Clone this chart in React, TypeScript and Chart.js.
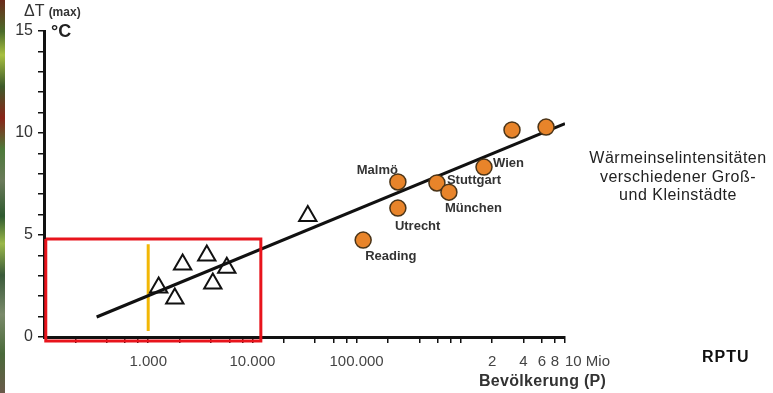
import React, { useEffect, useRef } from 'react';
import { Chart, registerables } from 'chart.js';

Chart.register(...registerables);

// ---- data ----
const triangleX = [1260, 1800, 2140, 3650, 4170, 5680, 34000];
const triangleY = [2.43, 1.89, 3.55, 4.0, 2.62, 3.4, 5.93];

const cityNames = ['Reading', 'Utrecht', 'Malmö', 'Stuttgart', 'München', 'Wien', '', ''];
const cityX = [115600, 249000, 249000, 590000, 769000, 1670000, 3100000, 6580000];
const cityY = [4.75, 6.32, 7.6, 7.55, 7.1, 8.33, 10.15, 10.29];

const trendX = [320, 10000000];
const trendY = [0.98, 10.46];

const markerX = [1000, 1000];
const markerY = [4.55, 0.29];

const boxX = [104, 12050, 12050, 104, 104];
const boxY = [4.8, 4.8, -0.2, -0.2, 4.8];

const xTickValues = [
  200, 400, 600, 800, 1000,
  2000, 4000, 6000, 8000, 10000,
  20000, 40000, 60000, 80000, 100000,
  200000, 400000, 600000, 800000, 1000000,
  2000000, 4000000, 6000000, 8000000, 10000000,
];
const xLabelValues = [1000, 10000, 100000, 2000000, 4000000, 6000000, 8000000, 10000000];
const xLabelTexts = ['1.000', '10.000', '100.000', '2', '4', '6', '8', '10 Mio'];

const yTickValues = [0, 1, 2, 3, 4, 5, 6, 7, 8, 9, 10, 11, 12, 13, 14, 15];
const yLabelValues = [0, 5, 10, 15];

// label placement (style, not data): dx, dy, align
const cityLabelPlacement: [number, number, CanvasTextAlign][] = [
  [2, 16, 'left'],
  [-3, 18, 'left'],
  [0, -12, 'right'],
  [10, -3, 'left'],
  [-4, 16, 'left'],
  [9, -4, 'left'],
  [0, 0, 'left'],
  [0, 0, 'left'],
];

const FONT = '"Liberation Sans", Arial, Helvetica, sans-serif';

const pts = (xs: number[], ys: number[]) => xs.map((x, i) => ({ x, y: ys[i] }));

const labelPlugin = {
  id: 'customLabels',
  afterDatasetsDraw(chart: any) {
    const ctx = chart.ctx as CanvasRenderingContext2D;
    const xs = chart.scales.x;
    const ys = chart.scales.y;
    ctx.save();
    ctx.textBaseline = 'middle';
    ctx.font = `bold 13px ${FONT}`;
    ctx.fillStyle = '#333';
    cityNames.forEach((n, i) => {
      if (!n) return;
      const [dx, dy, al] = cityLabelPlacement[i];
      ctx.textAlign = al;
      ctx.fillText(n, xs.getPixelForValue(cityX[i]) + dx, ys.getPixelForValue(cityY[i]) + dy);
    });
    ctx.font = `15px ${FONT}`;
    ctx.fillStyle = '#444';
    xLabelValues.forEach((v, i) => {
      const last = i === xLabelValues.length - 1;
      ctx.textAlign = last ? 'left' : 'center';
      ctx.fillText(xLabelTexts[i], xs.getPixelForValue(v), ys.bottom + 25);
    });
    ctx.restore();
  },
};

export default function App() {
  const ref = useRef<HTMLCanvasElement>(null);

  useEffect(() => {
    if (!ref.current) return;
    Chart.defaults.font.family = FONT;
    const chart = new Chart(ref.current, {
      type: 'scatter',
      data: {
        datasets: [
          {
            label: 'Städte',
            data: pts(cityX, cityY),
            pointStyle: 'circle',
            pointRadius: 8,
            backgroundColor: '#e8842a',
            borderColor: '#4a3418',
            borderWidth: 1.5,
            order: 0,
          } as any,
          {
            label: 'Kleinstädte',
            data: pts(triangleX, triangleY),
            pointStyle: 'triangle',
            pointRadius: 10,
            backgroundColor: 'rgba(255,255,255,0)',
            borderColor: '#111',
            borderWidth: 2,
            order: 1,
          } as any,
          {
            label: 'Trend',
            data: pts(trendX, trendY),
            showLine: true,
            pointRadius: 0,
            borderColor: '#111',
            borderWidth: 3,
            order: 2,
          } as any,
          {
            label: '1000',
            data: pts(markerX, markerY),
            showLine: true,
            pointRadius: 0,
            borderColor: '#f2b705',
            borderWidth: 3,
            order: 3,
          } as any,
          {
            label: 'box',
            data: pts(boxX, boxY),
            showLine: true,
            pointRadius: 0,
            borderColor: '#e8141c',
            borderWidth: 3,
            clip: false,
            order: -1,
          } as any,
        ],
      },
      options: {
        animation: false,
        responsive: false,
        layout: { padding: { left: 0, top: 31, right: 208, bottom: 0 } },
        plugins: { legend: { display: false }, tooltip: { enabled: false } },
        scales: {
          x: {
            type: 'logarithmic',
            min: 100,
            max: 10000000,
            afterBuildTicks: (scale: any) => {
              scale.ticks = xTickValues.map((v) => ({ value: v }));
            },
            afterFit: (scale: any) => {
              scale.height = 56;
            },
            ticks: { display: false, autoSkip: false },
            grid: { drawOnChartArea: false, tickLength: 6, color: '#111', lineWidth: 1.5 },
            border: { color: '#111', width: 3 },
          },
          y: {
            type: 'linear',
            min: 0,
            max: 15,
            afterBuildTicks: (scale: any) => {
              scale.ticks = yTickValues.map((v) => ({ value: v }));
            },
            afterFit: (scale: any) => {
              scale.width = 44;
            },
            ticks: {
              autoSkip: false,
              padding: 5,
              color: '#333',
              font: { size: 16, family: FONT },
              callback: (v: any) => (yLabelValues.includes(Number(v)) ? String(v) : ''),
            },
            grid: { drawOnChartArea: false, tickLength: 6, color: '#111', lineWidth: 1.5 },
            border: { color: '#111', width: 3 },
          },
        },
      } as any,
      plugins: [labelPlugin],
    });
    return () => chart.destroy();
  }, []);

  const txt: React.CSSProperties = { position: 'absolute', fontFamily: FONT, whiteSpace: 'nowrap', lineHeight: 1 };

  return (
    <div style={{ position: 'fixed', left: 0, top: 0, width: 773, height: 393, background: '#fff', overflow: 'hidden' }}>
      <canvas ref={ref} width={773} height={393} style={{ display: 'block', position: 'absolute', left: 0, top: 0 }} />
      <div
        style={{
          position: 'absolute', left: 0, top: 0, width: 5, height: 393,
          background: 'linear-gradient(180deg,#6a2a1a 0%,#4b6b2a 8%,#a8c040 14%,#3d5a2a 22%,#8a2418 30%,#4d7a3a 38%,#6a7a5a 46%,#2f5a2f 55%,#9ab84a 62%,#3a5a3a 70%,#7a8a6a 80%,#4a6a3a 90%,#6a5a4a 100%)',
        }}
      />
      <div style={{ ...txt, left: 24, top: 3, fontSize: 16, color: '#333' }}>
        ΔT <span style={{ fontSize: 12, fontWeight: 'bold' }}>(max)</span>
      </div>
      <div style={{ ...txt, left: 51, top: 22, fontSize: 18, fontWeight: 'bold', color: '#222' }}>°C</div>
      <div
        style={{
          ...txt, left: 588, top: 149, width: 180, textAlign: 'center', fontSize: 16,
          letterSpacing: 0.5, lineHeight: '18.5px', color: '#222', whiteSpace: 'normal',
        }}
      >
        Wärmeinselintensitäten
        <br />
        verschiedener Groß-
        <br />
        und Kleinstädte
      </div>
      <div style={{ ...txt, left: 479, top: 373, fontSize: 16, fontWeight: 'bold', letterSpacing: 0.3, color: '#333' }}>
        Bevölkerung (P)
      </div>
      <div style={{ ...txt, left: 702, top: 349, fontSize: 16, fontWeight: 'bold', letterSpacing: 1, color: '#111' }}>
        RPTU
      </div>
    </div>
  );
}
